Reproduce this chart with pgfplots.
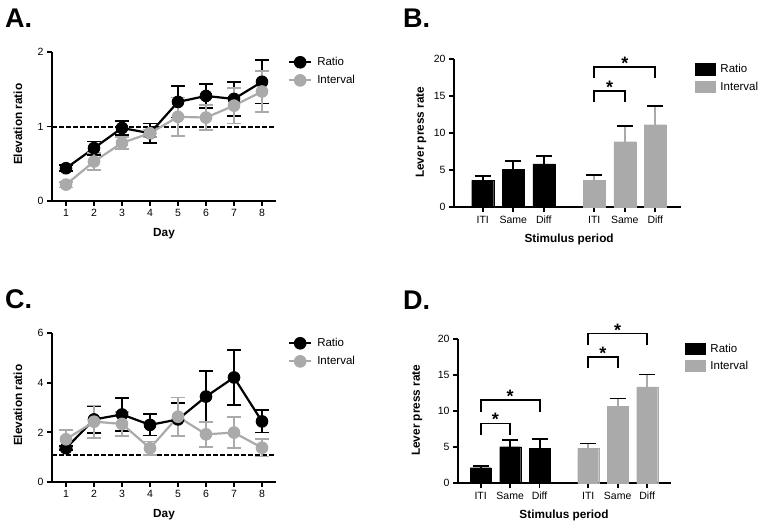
\documentclass[border=0pt]{standalone}
\usepackage{fontspec}
\setmainfont{Liberation Sans}
\usepackage{pgfplots}
\pgfplotsset{compat=1.18}
\definecolor{lgray}{RGB}{170,170,170}

\tikzset{
  star/.style={anchor=base, inner sep=0pt, font=\bfseries\fontsize{18}{18}\selectfont},
  brk/.style={line width=1.8pt},
}
\pgfplotsset{
  gp/.style={
    scale only axis, anchor=south west,
    axis x line*=bottom, axis y line*=left,
    axis line style={-, line width=2pt},
    tick align=outside, major tick length=5pt,
    tick style={line width=1.7pt, black},
    tick label style={font=\fontsize{10.5}{12}\selectfont},
    /pgf/number format/assume math mode=true,
    label style={font=\bfseries\fontsize{11.8}{13}\selectfont},
    clip=false,
    legend cell align=left,
    legend style={draw=none, fill=none, inner sep=0pt, outer sep=0pt,
      anchor=north west, font=\fontsize{11.5}{13}\selectfont,
      column sep=5pt, nodes={inner sep=0pt}},
  },
  gpline/.style={gp, width=224pt, height=149pt,
    xmin=0.5, xmax=8.5, xtick={1,...,8}, ymin=0,
    xlabel=Day, ylabel=Elevation ratio,
    xlabel style={at={(axis description cs:0.5,-0.221)}, anchor=center},
    ylabel style={at={(axis description cs:-0.152,0.515)}, anchor=center},
    legend image code/.code={\draw[mark repeat=2,mark phase=2,#1]
      plot coordinates {(0pt,0pt) (11pt,0pt) (22pt,0pt)};},
    legend style={at={(axis description cs:1.054,0.97)}, row sep=6.5pt},
  },
  gpbar/.style={gp,
    xtick={1,2,3,4.65,5.65,6.65}, xticklabels={ITI,Same,Diff,ITI,Same,Diff},
    ymin=0, ymax=20, ytick={0,5,...,20},
    xlabel=Stimulus period, ylabel=Lever press rate,
    legend style={row sep=5.5pt},
  },
  rat/.style={black, line width=2.2pt, mark=*, mark size=5.8pt,
    mark options={solid, fill=black, draw=black, line width=1pt}},
  int/.style={lgray, line width=2.2pt, mark=*, mark size=5.8pt,
    mark options={solid, fill=lgray, draw=lgray, line width=1pt}},
  errline/.style={error bars/.cd, y dir=both, y explicit,
    error bar style={line width=1.8pt},
    error mark options={rotate=90, mark size=7pt, line width=1.8pt}},
  barerr/.style={error bars/.cd, y dir=plus, y explicit,
    error bar style={line width=1.8pt},
    error mark options={rotate=90, mark size=8pt, line width=1.8pt}},
  refline/.style={black, line width=2pt, dash pattern=on 4.5pt off 2.5pt, forget plot},
}

\begin{document}
\begin{tikzpicture}
\useasboundingbox (0,0) rectangle (764pt,-525pt);

\node[anchor=base west, inner sep=0pt, font=\bfseries\fontsize{27}{27}\selectfont] at (5pt,-27pt) {A.};
\node[anchor=base west, inner sep=0pt, font=\bfseries\fontsize{27}{27}\selectfont] at (403pt,-27pt) {B.};
\node[anchor=base west, inner sep=0pt, font=\bfseries\fontsize{27}{27}\selectfont] at (5pt,-308pt) {C.};
\node[anchor=base west, inner sep=0pt, font=\bfseries\fontsize{27}{27}\selectfont] at (403pt,-309pt) {D.};

% A
\begin{axis}[gpline, at={(52pt,-201pt)}, ymax=2, ytick={0,1,2}]
\addplot[refline] coordinates {(0.5,1) (8.5,1)};
\addplot[rat, errline] coordinates {
  (1,0.44) +- (0,0.04) (2,0.71) +- (0,0.09) (3,0.98) +- (0,0.09) (4,0.91) +- (0,0.13)
  (5,1.33) +- (0,0.21) (6,1.41) +- (0,0.16) (7,1.37) +- (0,0.23) (8,1.60) +- (0,0.29)};
\addlegendentry{Ratio}
\addplot[int, errline] coordinates {
  (1,0.22) +- (0,0.04) (2,0.53) +- (0,0.11) (3,0.78) +- (0,0.08) (4,0.91) +- (0,0.05)
  (5,1.13) +- (0,0.26) (6,1.12) +- (0,0.17) (7,1.28) +- (0,0.24) (8,1.47) +- (0,0.28)};
\addlegendentry{Interval}
\end{axis}

% C
\begin{axis}[gpline, at={(52pt,-482pt)}, ymax=6, ytick={0,2,4,6}]
\addplot[refline] coordinates {(0.5,1.1) (8.5,1.1)};
\addplot[rat, errline] coordinates {
  (1,1.36) +- (0,0.08) (2,2.52) +- (0,0.55) (3,2.72) +- (0,0.65) (4,2.30) +- (0,0.43)
  (5,2.52) +- (0,0.65) (6,3.44) +- (0,1.04) (7,4.21) +- (0,1.12) (8,2.44) +- (0,0.45)};
\addlegendentry{Ratio}
\addplot[int, errline] coordinates {
  (1,1.72) +- (0,0.36) (2,2.43) +- (0,0.65) (3,2.34) +- (0,0.49) (4,1.36) +- (0,0.27)
  (5,2.63) +- (0,0.77) (6,1.92) +- (0,0.50) (7,1.99) +- (0,0.62) (8,1.38) +- (0,0.35)};
\addlegendentry{Interval}
\end{axis}

% B
\begin{axis}[gpbar, at={(454pt,-207.3pt)}, width=227pt, height=148pt,
  xmin=0.06, xmax=7.49,
  xlabel style={at={(axis description cs:0.507,-0.216)}, anchor=center},
  ylabel style={at={(axis description cs:-0.145,0.507)}, anchor=center},
  legend style={at={(axis description cs:1.062,0.973)}}]
\addplot[ybar, bar width=22pt, bar shift=0pt, fill=black, draw=black, line width=0.1pt, forget plot, barerr]
  coordinates {(1,3.65) +- (0,0.54) (2,5.14) +- (0,1.08) (3,5.86) +- (0,1.12)};
\addplot[ybar, bar width=22pt, bar shift=0pt, fill=lgray, draw=lgray, line width=0.1pt, forget plot, barerr]
  coordinates {(4.65,3.65) +- (0,0.76) (5.65,8.87) +- (0,2.12) (6.65,11.17) +- (0,2.52)};
\addlegendimage{legend image code/.code={\fill[black] (0pt,-5.75pt) rectangle (20pt,5.75pt);}}
\addlegendentry{Ratio}
\addlegendimage{legend image code/.code={\fill[lgray] (0pt,-5.75pt) rectangle (20pt,5.75pt);}}
\addlegendentry{Interval}
\draw[brk] (axis cs:4.65,14.27) -- (axis cs:4.65,15.76) -- (axis cs:5.65,15.76) -- (axis cs:5.65,14.27);
\draw[brk] (axis cs:4.65,17.5) -- (axis cs:4.65,19.0) -- (axis cs:6.65,19.0) -- (axis cs:6.65,17.5);
\node[star, yshift=-2.5pt] at (axis cs:5.15,15.76) {*};
\node[star, yshift=-2.5pt] at (axis cs:5.65,19.0) {*};
\end{axis}

% D
\begin{axis}[gpbar, at={(458pt,-483.3pt)}, width=213pt, height=144pt,
  xmin=0.23, xmax=7.46,
  xlabel style={at={(axis description cs:0.498,-0.222)}, anchor=center},
  ylabel style={at={(axis description cs:-0.192,0.507)}, anchor=center},
  legend style={at={(axis description cs:1.066,0.973)}}]
\addplot[ybar, bar width=21pt, bar shift=0pt, fill=black, draw=black, line width=0.1pt, forget plot, barerr]
  coordinates {(1,2.17) +- (0,0.28) (2,5.08) +- (0,0.97) (3,4.85) +- (0,1.29)};
\addplot[ybar, bar width=21pt, bar shift=0pt, fill=lgray, draw=lgray, line width=0.1pt, forget plot, barerr]
  coordinates {(4.65,4.85) +- (0,0.69) (5.65,10.67) +- (0,1.11) (6.65,13.40) +- (0,1.70)};
\addlegendimage{legend image code/.code={\fill[black] (0pt,-5.5pt) rectangle (20pt,5.5pt);}}
\addlegendentry{Ratio}
\addlegendimage{legend image code/.code={\fill[lgray] (0pt,-5.5pt) rectangle (20pt,5.5pt);}}
\addlegendentry{Interval}
\draw[brk] (axis cs:1,6.7) -- (axis cs:1,8.31) -- (axis cs:2,8.31) -- (axis cs:2,6.7);
\draw[brk] (axis cs:1,9.93) -- (axis cs:1,11.55) -- (axis cs:3,11.55) -- (axis cs:3,9.93);
\draw[brk] (axis cs:4.65,16.0) -- (axis cs:4.65,17.55) -- (axis cs:5.65,17.55) -- (axis cs:5.65,16.0);
\draw[brk] (axis cs:4.65,19.26) -- (axis cs:4.65,20.8) -- (axis cs:6.65,20.8) -- (axis cs:6.65,19.26);
\node[star, yshift=-2.5pt] at (axis cs:1.5,8.31) {*};
\node[star, yshift=-2.5pt] at (axis cs:2,11.55) {*};
\node[star, yshift=-2.5pt] at (axis cs:5.15,17.55) {*};
\node[star, yshift=-2.5pt] at (axis cs:5.65,20.8) {*};
\end{axis}
\end{tikzpicture}
\end{document}
